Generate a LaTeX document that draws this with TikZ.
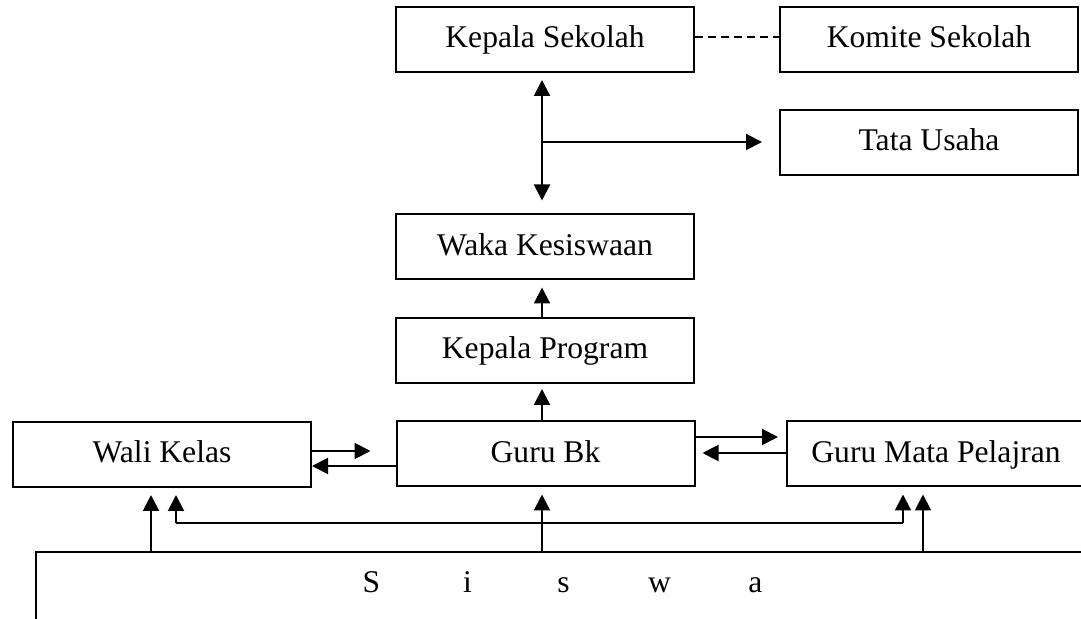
\documentclass[tikz,border=0pt]{standalone}
\usepackage{fontspec}
\setmainfont{Liberation Serif}
\usetikzlibrary{arrows.meta,calc}
\begin{document}
\begin{tikzpicture}[x=0.5pt,y=-0.5pt,
  box/.style={draw,line width=1pt,minimum width=149pt,minimum height=32.5pt,inner sep=0pt,text height=11pt,text depth=2.5pt,font=\fontsize{15.8}{19}\selectfont},
  arr/.style={line width=1pt,-{Triangle[length=8pt,width=8pt]}},
  darr/.style={line width=1pt,{Triangle[length=8pt,width=8pt]}-{Triangle[length=8pt,width=8pt]}},
  ln/.style={line width=1pt}]
\useasboundingbox (0,0) rectangle (1081,619);
\clip (0,0) rectangle (1081,619);
\fill[white] (0,0) rectangle (1081,619);
% boxes
\node[box] (ks) at (545,39.5) {Kepala Sekolah};
\node[box] (kom) at (929,39.5) {Komite Sekolah};
\node[box] (tu) at (929,142.5) {Tata Usaha};
\node[box] (waka) at (545,247) {Waka Kesiswaan};
\node[box] (kp) at (545,350.5) {Kepala Program};
\node[box] (gbk) at (545.5,454) {Guru Bk};
\node[box] (wali) at (162,454.5) {Wali Kelas};
\node[box] (gmp) at (936,454) {Guru Mata Pelajran};
\node[draw,line width=1pt,minimum width=530pt,minimum height=45pt,inner sep=0pt,anchor=north west] (siswa) at (35,551) {};
\node[font=\fontsize{15.8}{19}\selectfont,inner sep=0pt,text height=11pt,text depth=2.5pt] (siswatext) at (563.5,583.5)
  {\makebox[48pt]{S}\makebox[48pt]{i}\makebox[48pt]{s}\makebox[48pt]{w}\makebox[48pt]{a}};
% named coordinates
\coordinate (v1) at (542,142);
\coordinate (b1) at (176,523);
\coordinate (b2) at (903,523);
% top connectors
\draw[ln,dash pattern=on 4pt off 2.5pt] ([yshift=1pt]ks.east) -- ([yshift=1pt]kom.west);
\draw[darr,shorten <=3.5pt,shorten >=6.5pt] (ks.south -| v1) -- (waka.north -| v1);
\draw[arr,shorten >=8.5pt] (v1) -- (v1 -| tu.west);
\draw[arr,shorten >=3.5pt] (kp.north -| v1) -- (waka.south -| v1);
\draw[arr,shorten >=2.5pt] (gbk.north -| v1) -- (kp.south -| v1);
% side connectors
\draw[arr,shorten >=12.5pt] ([yshift=1.75pt]wali.east) -- ([yshift=1.75pt]wali.east -| gbk.west);
\draw[arr] ([yshift=-6pt]gbk.west) -- ([yshift=-6pt]gbk.west -| wali.east);
\draw[arr,shorten >=4pt] ([yshift=8.5pt]gbk.east) -- ([yshift=8.5pt]gbk.east -| gmp.west);
\draw[arr,shorten >=3.5pt] ([yshift=0.5pt]gmp.west) -- ([yshift=0.5pt]gmp.west -| gbk.east);
% bottom connectors
\draw[arr,shorten >=3.5pt] (siswa.north -| 151,0) -- (wali.south -| 151,0);
\draw[arr,shorten >=3.5pt] (siswa.north -| v1) -- (gbk.south -| v1);
\draw[arr,shorten >=3.5pt] (siswa.north -| 923,0) -- (gmp.south -| 923,0);
\draw[ln] (b1) -- (b2);
\draw[arr,shorten >=3.5pt] (b1) -- (wali.south -| b1);
\draw[arr,shorten >=3.5pt] (b2) -- (gmp.south -| b2);
\end{tikzpicture}
\end{document}
